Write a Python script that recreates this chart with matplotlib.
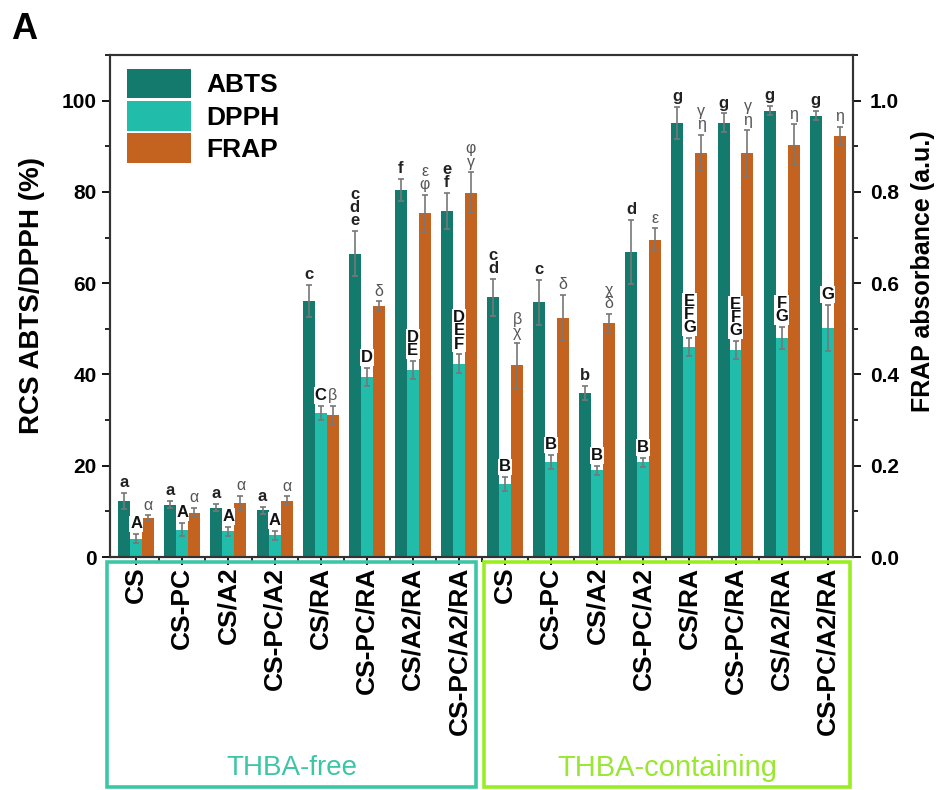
import numpy as np
import matplotlib.pyplot as plt
from matplotlib.patches import Rectangle
from matplotlib.ticker import MultipleLocator

plt.rcParams['font.family'] = ['Liberation Sans', 'DejaVu Sans']

samples = ['CS', 'CS-PC', 'CS/A2', 'CS-PC/A2', 'CS/RA', 'CS-PC/RA', 'CS/A2/RA', 'CS-PC/A2/RA'] * 2

# RCS (%) for ABTS and DPPH, FRAP absorbance (a.u.)
abts = [12.3, 11.5, 10.8, 10.2, 56.1, 66.5, 80.4, 75.8,
        56.9, 55.8, 36.0, 66.9, 95.2, 95.2, 97.8, 96.7]
abts_err = [1.8, 0.8, 0.8, 0.8, 3.5, 5.0, 2.5, 4.0,
            4.0, 5.0, 1.5, 7.0, 3.5, 2.0, 1.0, 1.0]
dpph = [4.0, 6.0, 5.6, 4.8, 31.6, 39.5, 40.9, 42.4,
        16.0, 20.8, 19.0, 20.8, 46.0, 45.3, 48.0, 50.2]
dpph_err = [1.0, 1.5, 1.0, 1.0, 1.5, 2.0, 2.0, 2.0,
            1.5, 1.5, 1.0, 1.0, 2.0, 2.0, 2.5, 5.0]
frap = [0.086, 0.097, 0.119, 0.123, 0.312, 0.55, 0.753, 0.798,
        0.42, 0.524, 0.513, 0.695, 0.885, 0.885, 0.903, 0.922]
frap_err = [0.005, 0.01, 0.015, 0.01, 0.02, 0.01, 0.04, 0.045,
            0.05, 0.05, 0.02, 0.025, 0.04, 0.05, 0.045, 0.02]

abts_lbl = ['a', 'a', 'a', 'a', 'c', 'c\nd\ne', 'f', 'e\nf',
            'c\nd', 'c', 'b', 'd', 'g', 'g', 'g', 'g']
dpph_lbl = ['A', 'A', 'A', 'A', 'C', 'D', 'D\nE', 'D\nE\nF',
            'B', 'B', 'B', 'B', 'E\nF\nG', 'E\nF\nG', 'F\nG', 'G']
frap_lbl = ['α', 'α', 'α', 'α', 'β', 'δ', 'ε\nφ', 'φ\nγ',
            'β\nχ', 'δ', 'χ\nδ', 'ε', 'γ\nη', 'γ\nη', 'η', 'η']

c_abts = '#137a6d'
c_dpph = '#22bcaa'
c_frap = '#c4631f'

fig = plt.figure(figsize=(9.37, 7.9), dpi=100)
ax = fig.add_axes([0.1174, 0.2949, 0.793, 0.6355])
ax2 = ax.twinx()

x = np.arange(1, 17)
w = 0.26
ekw = dict(ecolor='#777777', elinewidth=1.2, capsize=2, capthick=1.2)
b1 = ax.bar(x - w, abts, w, yerr=abts_err, color=c_abts, error_kw=ekw, label='ABTS')
b2 = ax.bar(x, dpph, w, yerr=dpph_err, color=c_dpph, error_kw=ekw, label='DPPH')
b3 = ax2.bar(x + w, frap, w, yerr=frap_err, color=c_frap, error_kw=ekw, label='FRAP')

ax.set_xlim(0.43, 16.55)
ax.set_ylim(0, 110)
ax2.set_ylim(0, 1.1)

# significance letters
for i in range(16):
    ax2.annotate(abts_lbl[i], (x[i] - w, abts[i] + abts_err[i]), xycoords=ax.transData,
                 xytext=(0, 2), textcoords='offset points', ha='center', va='bottom',
                 fontsize=12, fontweight='bold', color='#222222', linespacing=0.85)
    ax2.annotate(dpph_lbl[i], (x[i], dpph[i] + dpph_err[i]), xycoords=ax.transData,
                 xytext=(0, 2), textcoords='offset points', ha='center', va='bottom',
                 fontsize=12, fontweight='bold', color='#111111', linespacing=0.85,
                 bbox=dict(boxstyle='square,pad=0.05', fc='white', ec='none'))
    ax2.annotate(frap_lbl[i], (x[i] + w, frap[i] + frap_err[i]),
                 xytext=(0, 2), textcoords='offset points', ha='center', va='bottom',
                 fontsize=11.5, color='#555555', linespacing=0.85)

ax.set_ylabel('RCS ABTS/DPPH (%)', fontsize=20, fontweight='bold', va='center')
ax.yaxis.set_label_coords(-0.105, 0.52)
ax2.set_ylabel('FRAP absorbance (a.u.)', fontsize=18, fontweight='bold', va='center')
ax2.yaxis.set_label_coords(1.094, 0.57)

ax.yaxis.set_major_locator(MultipleLocator(20))
ax.yaxis.set_minor_locator(MultipleLocator(10))
ax2.yaxis.set_major_locator(MultipleLocator(0.2))
ax2.yaxis.set_minor_locator(MultipleLocator(0.1))
ax2.yaxis.set_major_formatter(plt.FormatStrFormatter('%.1f'))
ax.set_xticks(x)
ax.set_xticks(x[:-1] + 0.5, minor=True)
ax.set_xticklabels(samples, rotation=90, fontsize=19, fontweight='bold')

for a in (ax, ax2):
    a.tick_params(which='major', direction='out', length=6, width=1.3, labelsize=15)
    a.tick_params(which='minor', direction='out', length=3.5, width=1.2)
    for s in a.spines.values():
        s.set_color('#333333')
        s.set_linewidth(1.5)
    for lb in a.get_yticklabels():
        lb.set_fontweight('bold')
ax2.tick_params(axis='y', which='major', pad=6)
ax.tick_params(axis='x', which='major', labelsize=19, pad=1)

ax2.legend(handles=[b1, b2, b3], loc='upper left', bbox_to_anchor=(-0.012, 1.025),
           frameon=False, prop=dict(size=19, weight='bold'),
           handlelength=2.4, handleheight=1.35, handletextpad=0.6,
           labelspacing=0.1, borderpad=0.5)

# group boxes under the axis
fig.patches.append(Rectangle((0.1142, 0.004), 0.394, 0.285, transform=fig.transFigure,
                             fill=False, ec='#3cc6a6', lw=2.6))
fig.patches.append(Rectangle((0.5165, 0.004), 0.3905, 0.285, transform=fig.transFigure,
                             fill=False, ec='#99ee22', lw=2.6))
fig.text(0.311, 0.028, 'THBA-free', ha='center', va='center', fontsize=20, color='#3cc6a6')
fig.text(0.712, 0.028, 'THBA-containing', ha='center', va='center', fontsize=21, color='#99e633')

fig.text(0.012, 0.985, 'A', ha='left', va='top', fontsize=26, fontweight='bold')

fig.savefig('out.png', dpi=100)
